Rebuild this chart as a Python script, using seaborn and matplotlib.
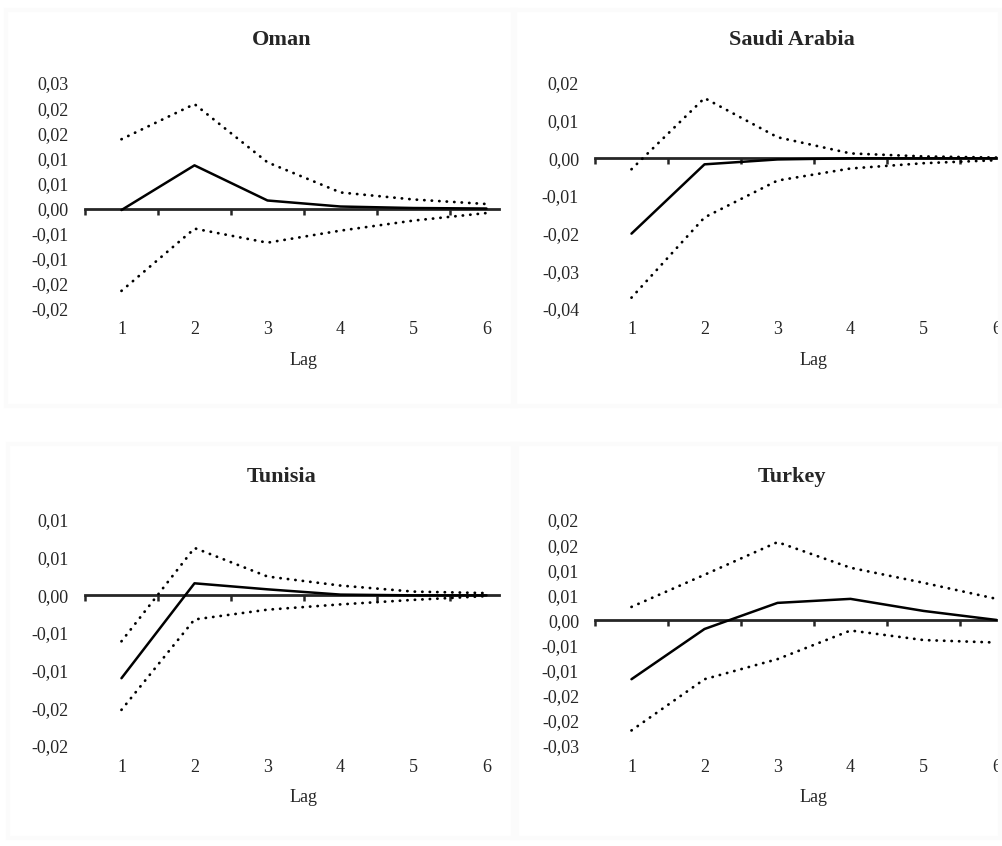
import numpy as np
import pandas as pd
import seaborn as sns
import matplotlib.pyplot as plt
from matplotlib.patches import Rectangle
from matplotlib.ticker import FuncFormatter
from decimal import Decimal, ROUND_HALF_UP

# Impulse responses (lags 1..6)
lags = [1, 2, 3, 4, 5, 6]

oman_irf = [-0.0003, 0.0086, 0.0016, 0.0004, 0.0001, 0.0]
oman_upper = [0.0138, 0.0208, 0.0092, 0.0032, 0.0018, 0.0009]
oman_lower = [-0.0164, -0.0040, -0.0068, -0.0044, -0.0024, -0.0009]

saudi_irf = [-0.0200, -0.0016, -0.0003, 0.0, 0.0, 0.0]
saudi_upper = [-0.0029, 0.0160, 0.0056, 0.0013, 0.0005, 0.0002]
saudi_lower = [-0.0370, -0.0157, -0.0059, -0.0027, -0.0013, -0.0005]

tunisia_irf = [-0.0110, 0.0016, 0.0008, 0.0001, 0.0, 0.0]
tunisia_upper = [-0.0061, 0.0063, 0.0025, 0.0013, 0.0005, 0.0003]
tunisia_lower = [-0.0152, -0.0032, -0.0019, -0.0012, -0.0006, -0.0001]

turkey_irf = [-0.0117, -0.0017, 0.0035, 0.0043, 0.0019, 0.0001]
turkey_upper = [0.0027, 0.0091, 0.0156, 0.0105, 0.0075, 0.0043]
turkey_lower = [-0.0219, -0.0117, -0.0077, -0.0020, -0.0039, -0.0044]

titles = ["Oman", "Saudi Arabia", "Tunisia", "Turkey"]
y_ranges = [(-0.02, 0.025, 0.005), (-0.04, 0.02, 0.01),
            (-0.02, 0.01, 0.005), (-0.025, 0.02, 0.005)]

sns.set_style("white")
plt.rcParams["font.family"] = ["Liberation Serif", "DejaVu Serif"]


def excel_fmt(v, pos):
    # two decimals, half-up rounding, comma as decimal sign
    d = Decimal(str(round(v, 6))).quantize(Decimal("0.01"), rounding=ROUND_HALF_UP)
    s = f"{d:.2f}".replace(".", ",")
    return "0,00" if s == "-0,00" else s


fig = plt.figure(figsize=(10.02, 8.46), dpi=100)

# very faint chart-area frames
for (x0, y0, w, h) in [(0.006, 0.52, 0.508, 0.468), (0.512, 0.52, 0.486, 0.468),
                       (0.008, 0.01, 0.508, 0.465), (0.512, 0.01, 0.486, 0.465)]:
    fig.patches.append(Rectangle((x0, y0), w, h, transform=fig.transFigure,
                                 fill=False, edgecolor="#fbfbfb", lw=3))

rects = [[0.0848, 0.6348, 0.4132, 0.2671], [0.5938, 0.6348, 0.4062, 0.2671],
         [0.0848, 0.1182, 0.4132, 0.2671], [0.5938, 0.1182, 0.4062, 0.2671]]
xmax = [6.171, 6.075, 6.171, 6.075]
title_x = [0.476, 0.484, 0.476, 0.484]
lag_x = [0.527, 0.536, 0.527, 0.536]

series = [(oman_irf, oman_upper, oman_lower),
          (saudi_irf, saudi_upper, saudi_lower),
          (tunisia_irf, tunisia_upper, tunisia_lower),
          (turkey_irf, turkey_upper, turkey_lower)]

dotted = (0, (0.1, 2.6))

for i, (irf, up, lo) in enumerate(series):
    ax = fig.add_axes(rects[i])
    df = pd.DataFrame({"lag": lags, "irf": irf, "upper": up, "lower": lo})

    sns.lineplot(data=df, x="lag", y="upper", ax=ax, color="black", lw=2,
                 linestyle=dotted, dash_capstyle="round")
    sns.lineplot(data=df, x="lag", y="lower", ax=ax, color="black", lw=2,
                 linestyle=dotted, dash_capstyle="round")
    sns.lineplot(data=df, x="lag", y="irf", ax=ax, color="black", lw=1.8)

    ylo, yhi, step = y_ranges[i]
    ax.set_ylim(ylo, yhi)
    ax.set_yticks(np.arange(ylo, yhi + step / 2, step))
    ax.yaxis.set_major_formatter(FuncFormatter(excel_fmt))
    ax.set_xlim(0.5, xmax[i])
    ax.set_xticks(lags)
    ax.tick_params(axis="both", length=0, labelsize=13)
    ax.tick_params(axis="y", pad=11.5)
    ax.tick_params(axis="x", pad=9)
    for sp in ax.spines.values():
        sp.set_visible(False)

    ax.set_ylabel("")
    ax.set_xlabel("Lag", fontsize=13)
    ax.xaxis.set_label_coords(lag_x[i], -0.226)
    ax.xaxis.label.set_va("center")
    ax.set_title(titles[i], fontsize=16, fontweight="bold", x=title_x[i], pad=27.5)

    # horizontal axis crossing at zero, ticks between categories
    zero = (0 - ylo) / (yhi - ylo)
    sec = ax.secondary_xaxis(zero)
    sec.set_alignment("bottom")
    sec.set_xticks(np.arange(0.5, 6.6, 1))
    sec.tick_params(direction="out", length=4, width=1.8, labelbottom=False)
    sec.spines["bottom"].set_linewidth(2)

plt.savefig("out.png", dpi=100)
